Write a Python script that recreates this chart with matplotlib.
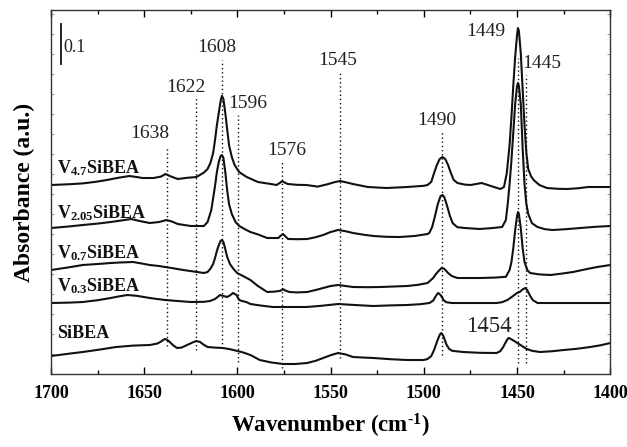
import matplotlib
matplotlib.use("Agg")
import matplotlib.pyplot as plt
from matplotlib.ticker import MultipleLocator, NullFormatter

plt.rcParams['font.family'] = ['Liberation Serif', 'DejaVu Serif']
plt.rcParams['mathtext.fontset'] = 'custom'
plt.rcParams['mathtext.rm'] = 'Liberation Serif:bold'
plt.rcParams['mathtext.it'] = 'Liberation Serif:bold'
plt.rcParams['mathtext.bf'] = 'Liberation Serif:bold'

# ---- data (wavenumber in cm-1, absorbance relative to each trace's offset) ----
samples = ['V$_{4.7}$SiBEA', 'V$_{2.05}$SiBEA', 'V$_{0.7}$SiBEA', 'V$_{0.3}$SiBEA', 'SiBEA']
offsets = [0.4725, 0.365, 0.26, 0.1775, 0.045]

wn_v47 = [1700, 1690, 1683, 1676, 1670, 1664, 1658, 1654, 1651, 1645, 1641, 1638.5, 1636, 1632, 1627, 1622, 1618,
          1616, 1614.5, 1613, 1612, 1611, 1610, 1609, 1608.3, 1607.5, 1606.5, 1605.5, 1604.5, 1603, 1601.5, 1599,
          1595, 1589, 1582, 1579, 1577, 1576, 1575, 1573, 1568, 1563, 1557, 1552, 1548, 1545, 1542, 1538, 1530,
          1520, 1509, 1500, 1498, 1496, 1494.5, 1493, 1491.5, 1490, 1488.5, 1487, 1485.5, 1484, 1482, 1478, 1475,
          1469, 1463, 1459, 1457, 1455.5, 1454, 1453, 1452, 1451, 1450, 1449.5, 1449, 1448, 1447, 1446, 1445,
          1444, 1442.5, 1441, 1438, 1434, 1428, 1423, 1417, 1412, 1406, 1400]
ab_v47 = [0.0, 0.002, 0.004, 0.008, 0.0125, 0.018, 0.0225, 0.02, 0.0175, 0.0175, 0.021, 0.0275, 0.022, 0.015, 0.018, 0.02, 0.031,
          0.04, 0.055, 0.08, 0.1125, 0.15, 0.18, 0.21, 0.223, 0.215, 0.18, 0.14, 0.1, 0.07, 0.05, 0.032,
          0.02, 0.0075, 0.0025, 0.0, 0.006, 0.01, 0.007, 0.0025, 0.0005, 0.0, -0.004, 0.0015, 0.007, 0.01, 0.007, 0.0025, -0.005,
          -0.0075, -0.005, -0.002, 0.0, 0.008, 0.03, 0.05, 0.065, 0.07, 0.065, 0.05, 0.03, 0.013, 0.005, 0.001, 0.0,
          0.005, -0.004, -0.01, -0.005, 0.03, 0.1, 0.17, 0.25, 0.32, 0.375, 0.3925, 0.385, 0.33, 0.24, 0.15, 0.08,
          0.04, 0.022, 0.012, 0.0, -0.0075, -0.0095, -0.01, -0.008, -0.005, -0.005, -0.005]

wn_v205 = [1700, 1690, 1683, 1675, 1668, 1662, 1657, 1652, 1647, 1642, 1638, 1635, 1632, 1625, 1618, 1616, 1614,
           1613, 1612, 1611, 1610, 1609, 1608.3, 1607.5, 1606.5, 1605.5, 1604.5, 1603, 1601, 1599, 1596, 1593, 1589,
           1584, 1578, 1577, 1575.5, 1574, 1572.8, 1568, 1562.6, 1558, 1554, 1550, 1546, 1542, 1538, 1532, 1527,
           1520, 1513, 1505, 1498, 1497, 1495.5, 1494, 1492.5, 1491, 1490, 1489, 1487.5, 1486, 1484.5, 1482, 1478,
           1470, 1463, 1458, 1456, 1455, 1454, 1453, 1452, 1451, 1450, 1449.5, 1449, 1448, 1447, 1446, 1445, 1444,
           1442, 1439, 1435, 1431, 1424, 1416, 1408, 1400]
ab_v205 = [0.0, 0.004, 0.0075, 0.011, 0.015, 0.019, 0.0225, 0.017, 0.0125, 0.015, 0.02, 0.016, 0.01, 0.005, 0.005, 0.015, 0.045,
           0.075, 0.105, 0.14, 0.165, 0.18, 0.1825, 0.175, 0.14, 0.095, 0.06, 0.035, 0.015, 0.005, -0.003, -0.01, -0.016,
           -0.025, -0.025, -0.02, -0.015, -0.022, -0.0275, -0.028, -0.0275, -0.023, -0.0175, -0.01, -0.005, -0.008, -0.0125, -0.017, -0.02,
           -0.022, -0.0225, -0.02, -0.015, -0.012, 0.003, 0.03, 0.06, 0.08, 0.0825, 0.077, 0.055, 0.03, 0.012, 0.002, 0.0,
           -0.0025, 0.0, 0.0025, 0.02, 0.06, 0.11, 0.17, 0.24, 0.31, 0.355, 0.3625, 0.355, 0.31, 0.2, 0.11, 0.06, 0.035,
           0.012, 0.0025, -0.003, -0.005, -0.003, 0.0, 0.003, 0.005]

wn_v07 = [1700, 1690, 1683, 1675, 1668, 1662, 1656, 1651, 1647, 1642, 1638.8, 1634, 1629, 1623, 1618, 1616, 1614.5,
          1613, 1612, 1611, 1610, 1609, 1608.3, 1607.5, 1606.5, 1605.5, 1604, 1602, 1600, 1597, 1593, 1589, 1584,
          1580, 1577, 1575.5, 1574, 1572, 1568, 1562.6, 1558, 1554, 1550, 1546, 1542, 1538, 1530, 1523, 1515, 1509,
          1503, 1498, 1495, 1493.5, 1492, 1490.5, 1489, 1487, 1485, 1482, 1476, 1470, 1462, 1456, 1454, 1453, 1452,
          1451, 1450, 1449.5, 1449, 1448, 1447, 1446, 1444.5, 1443, 1438, 1432, 1426, 1420, 1413, 1407, 1400]
ab_v07 = [0.0, 0.007, 0.0125, 0.015, 0.0175, 0.019, 0.02, 0.016, 0.0125, 0.01, 0.0075, 0.004, 0.0, -0.004, -0.0075, -0.005, 0.003,
          0.015, 0.03, 0.048, 0.062, 0.073, 0.075, 0.07, 0.052, 0.033, 0.015, 0.002, -0.008, -0.015, -0.025, -0.04, -0.055,
          -0.054, -0.052, -0.048, -0.052, -0.055, -0.056, -0.055, -0.05, -0.045, -0.04, -0.0375, -0.04, -0.0425, -0.043, -0.0425, -0.041, -0.04,
          -0.037, -0.0325, -0.02, -0.01, -0.002, 0.005, 0.003, -0.0075, -0.015, -0.02, -0.02, -0.02, -0.019, -0.017, 0.0, 0.02, 0.055,
          0.1, 0.135, 0.145, 0.14, 0.105, 0.055, 0.02, 0.0, -0.0075, -0.011, -0.0125, -0.009, -0.005, 0.002, 0.0075, 0.0125]

wn_v03 = [1700, 1690, 1683, 1675, 1668, 1663, 1659, 1654, 1647, 1643, 1638.8, 1632, 1625, 1618, 1614.7, 1612,
          1609.3, 1607, 1605.5, 1604, 1602.3, 1600.5, 1599, 1597.5, 1595, 1593, 1588, 1581, 1572, 1563, 1555, 1546,
          1537, 1527, 1518, 1509, 1502, 1497, 1495, 1493.5, 1492.3, 1491, 1489.5, 1488, 1485, 1482, 1470, 1461, 1458,
          1455, 1452, 1450, 1448.5, 1447, 1445.6, 1444.5, 1443, 1441.5, 1439, 1432, 1425, 1412, 1400]
ab_v03 = [0.0, 0.001, 0.0025, 0.007, 0.0125, 0.017, 0.02, 0.018, 0.0125, 0.01, 0.0075, 0.005, 0.0025, 0.003, 0.005, 0.01,
          0.02, 0.017, 0.015, 0.019, 0.025, 0.02, 0.0075, 0.005, 0.002, -0.0025, -0.006, -0.01, -0.01, -0.01, -0.007, -0.0025,
          -0.005, -0.0075, -0.006, -0.005, -0.003, 0.0, 0.006, 0.018, 0.025, 0.02, 0.008, 0.002, 0.0, 0.0, 0.0, 0.0, 0.002,
          0.008, 0.018, 0.025, 0.028, 0.034, 0.0375, 0.032, 0.018, 0.007, 0.0, 0.0, 0.0, 0.0, 0.0]

wn_si = [1700, 1690, 1683, 1674, 1665, 1656, 1647, 1643, 1641, 1639.5, 1638.5, 1637, 1634.5, 1632.4, 1630, 1627,
         1624, 1622, 1620, 1618, 1616, 1612, 1607.7, 1604, 1600, 1597, 1593, 1588, 1582, 1575.5, 1569, 1562.6, 1558,
         1554, 1550, 1546, 1542, 1538, 1532, 1527, 1518, 1509, 1500, 1498, 1496, 1494.5, 1493, 1491.5, 1490.7, 1489.5,
         1488, 1486.5, 1484.8, 1479, 1470, 1461, 1459, 1457.5, 1456, 1455, 1454.5, 1453.5, 1451, 1448, 1445, 1442,
         1437.6, 1431, 1425, 1418, 1410.7, 1405, 1400]
ab_si = [0.0, 0.006, 0.01, 0.016, 0.0225, 0.026, 0.0275, 0.031, 0.036, 0.041, 0.0425, 0.038, 0.027, 0.02, 0.021, 0.0275,
         0.034, 0.0375, 0.035, 0.028, 0.0225, 0.021, 0.02, 0.017, 0.0125, 0.009, 0.0025, -0.01, -0.016, -0.02, -0.02, -0.0175, -0.012,
         -0.005, 0.002, 0.0075, 0.004, -0.0025, -0.004, -0.005, -0.008, -0.01, -0.01, -0.0075, 0.0, 0.015, 0.035, 0.053, 0.0575, 0.05,
         0.03, 0.018, 0.013, 0.01, 0.008, 0.0075, 0.012, 0.022, 0.035, 0.043, 0.045, 0.043, 0.036, 0.027, 0.018, 0.013,
         0.01, 0.012, 0.015, 0.018, 0.0225, 0.027, 0.0325]

wavenumbers = [wn_v47, wn_v205, wn_v07, wn_v03, wn_si]
absorbances = [ab_v47, ab_v205, ab_v07, ab_v03, ab_si]

# band markers: position drawn, label text, line top/bottom, label x / baseline
band_pos = [1638, 1622, 1608, 1599.5, 1576, 1545, 1490, 1449.5, 1445]
band_text = ['1638', '1622', '1608', '1596', '1576', '1545', '1490', '1449', '1445']
band_top = [0.565, 0.69, 0.785, 0.6475, 0.535, 0.7525, 0.61, 0.79, 0.7475]
band_bottom = [0.07, 0.06, 0.065, 0.03, 0.015, 0.04, 0.0475, 0.0275, 0.0275]
label_x = [1646.9, 1627.5, 1611.0, 1594.5, 1573.6, 1546.0, 1492.8, 1467.0, 1436.5]
label_y = [0.589, 0.706, 0.806, 0.664, 0.5475, 0.7725, 0.6225, 0.845, 0.764]

sample_label_y = [0.5017, 0.389, 0.289, 0.206, 0.089]

fig = plt.figure(figsize=(6.27, 4.47), dpi=100)
ax = fig.add_axes([0.0813, 0.1633, 0.8920, 0.8143])

for wn, ab, off in zip(wavenumbers, absorbances, offsets):
    ax.plot(wn, [a + off for a in ab], color='#111111', lw=1.5, solid_joinstyle='round')

for p, t, top, bot, lx, ly in zip(band_pos, band_text, band_top, band_bottom, label_x, label_y):
    ax.plot([p, p], [bot, top], color='#111111', lw=1.0, ls=(0, (1, 2)))
    ax.text(lx, ly, t, ha='center', va='baseline', fontsize=14, color='#222222')

ax.text(1465.3, 0.106, '1454', ha='center', va='baseline', fontsize=16.5, color='#222222')

for s, y in zip(samples, sample_label_y):
    ax.text(1696.8, y, s, ha='left', va='baseline', fontsize=13, fontweight='bold', color='#111111')

# scale bar
ax.plot([1694.8, 1694.8], [0.775, 0.875], color='#111111', lw=1.3)
ax.text(1693.2, 0.806, '0.1', ha='left', va='baseline', fontsize=13, color='#222222')

ax.set_xlim(1700, 1400)
ax.set_ylim(0, 0.91)
ax.xaxis.set_major_locator(MultipleLocator(50))
ax.xaxis.set_minor_locator(MultipleLocator(25))
ax.yaxis.set_major_locator(MultipleLocator(0.05))
ax.yaxis.set_major_formatter(NullFormatter())
ax.tick_params(axis='x', which='major', direction='in', length=5, width=1, top=True, labelsize=13, pad=8)
ax.tick_params(axis='x', which='minor', direction='in', length=3, width=1, top=True)
ax.tick_params(axis='y', which='major', direction='in', length=2.5, width=0.6, colors='#888888', right=True)
for lab in ax.get_xticklabels():
    lab.set_fontweight('bold')
for sp in ax.spines.values():
    sp.set_linewidth(1.0)
    sp.set_color('#333333')

ax.set_xlabel('Wavenumber (cm$^{\\text{-1}}$)', fontsize=16.5, fontweight='bold', labelpad=7)
ax.set_ylabel('Absorbance (a.u.)', fontsize=17, fontweight='bold', labelpad=8)

fig.savefig('out.png', dpi=100)
